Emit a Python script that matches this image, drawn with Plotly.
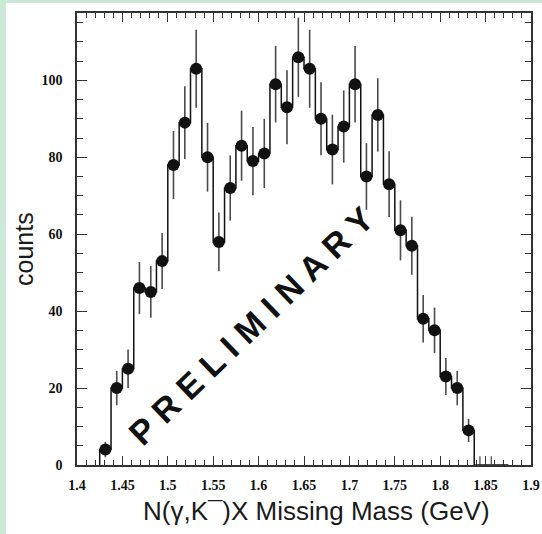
import numpy as np
import plotly.graph_objects as go

# ---- data ----
BIN_START = 1.425          # GeV, lower edge of first bin
BIN_WIDTH = 0.0125         # GeV
counts = [4, 20, 25, 46, 45, 53, 78, 89, 103, 80,
          58, 72, 83, 79, 81, 99, 93, 106, 103, 90,
          82, 88, 99, 75, 91, 73, 61, 57, 38, 35,
          23, 20, 9]
trailing_zero_counts = [0, 0, 0]
zero_bin_upper_err = [2.3, 2.3, 0.0]

x_tick_vals = [1.4, 1.45, 1.5, 1.55, 1.6, 1.65, 1.7, 1.75, 1.8, 1.85, 1.9]
x_tick_text = ["1.4", "1.45", "1.5", "1.55", "1.6", "1.65", "1.7", "1.75", "1.8", "1.85", "1.9"]
y_tick_vals = [0, 20, 40, 60, 80, 100]
y_tick_text = ["0", "20", "40", "60", "80", "100"]

# ---- derived ----
all_counts = counts + trailing_zero_counts
n = len(all_counts)
edges = BIN_START + BIN_WIDTH * np.arange(n + 1)
centers = edges[:-1] + BIN_WIDTH / 2
n_data = len(counts)
errors = np.sqrt(np.array(counts, dtype=float))

hist_x = [edges[0]] + list(edges)
hist_y = [0] + all_counts + [all_counts[-1]]

fig = go.Figure()
fig.add_trace(go.Scatter(x=hist_x, y=hist_y, mode="lines",
                         line=dict(shape="hv", color="#111111", width=1.5),
                         hoverinfo="skip", showlegend=False))
fig.add_trace(go.Scatter(x=centers[n_data:], y=trailing_zero_counts, mode="markers",
                         marker=dict(size=1, color="rgba(0,0,0,0)"),
                         error_y=dict(type="data", array=zero_bin_upper_err,
                                      arrayminus=[0] * len(trailing_zero_counts),
                                      thickness=1.2, width=0, color="#444444"),
                         showlegend=False))
fig.add_trace(go.Scatter(x=centers[:n_data], y=counts, mode="markers",
                         marker=dict(size=12, color="#111111"),
                         error_y=dict(type="data", array=errors, thickness=1.6,
                                      width=0, color="#4a4a4a"),
                         showlegend=False))

W, H = 542, 534
L, R, T, B = 77, 11, 13, 69
PW, PH = W - L - R, H - T - B


def px(xp):
    return (xp - L) / PW


def py(yp):
    return (H - B - yp) / PH


tickfont = dict(family="Liberation Serif", size=14, color="#111111", weight="bold")
axis_common = dict(showline=True, linecolor="#333333", linewidth=1.5, mirror="ticks",
                   ticks="inside", tickcolor="#333333", tickwidth=1.3, automargin=False,
                   showgrid=False, zeroline=False, tickfont=tickfont, tickmode="array")

fig.update_xaxes(range=[1.4, 1.9], tickvals=x_tick_vals, ticktext=x_tick_text,
                 ticklen=9, ticklabelstandoff=6,
                 minor=dict(dtick=0.01, tick0=1.4, ticks="inside", ticklen=5,
                            tickcolor="#333333", tickwidth=1.1, showgrid=False),
                 **axis_common)
fig.update_yaxes(range=[0, 117.5], tickvals=y_tick_vals, ticktext=y_tick_text,
                 ticklen=10, ticklabelstandoff=10,
                 minor=dict(dtick=5, tick0=0, ticks="inside", ticklen=6,
                            tickcolor="#333333", tickwidth=1.1, showgrid=False),
                 **axis_common)

green = "#cbe9d6"
shapes = [
    dict(type="rect", xref="paper", yref="paper", x0=px(0), x1=px(W), y0=py(3), y1=py(0),
         fillcolor=green, line=dict(width=0), layer="below"),
    dict(type="rect", xref="paper", yref="paper", x0=px(0), x1=px(6), y0=py(H), y1=py(0),
         fillcolor=green, line=dict(width=0), layer="below"),
]

annotations = [
    dict(text="counts", x=px(24), y=py(249), xref="paper", yref="paper",
         showarrow=False, textangle=-90, xanchor="center", yanchor="middle",
         font=dict(family="Liberation Sans", size=25, color="#1a1a1a")),
    dict(text="N(γ,K¯)X Missing Mass (GeV)", x=px(316), y=py(511), xref="paper", yref="paper",
         showarrow=False, xanchor="center", yanchor="middle",
         font=dict(family="Liberation Sans", size=26, color="#1a1a1a")),
    dict(text="P R E L I M I N A R Y", x=px(251), y=py(326), xref="paper", yref="paper",
         showarrow=False, textangle=-44, xanchor="center", yanchor="middle",
         font=dict(family="Liberation Sans", size=34, color="#111111", weight="bold")),
]

fig.update_layout(width=W, height=H, margin=dict(l=L, r=R, t=T, b=B),
                  paper_bgcolor="white", plot_bgcolor="white",
                  shapes=shapes, annotations=annotations, showlegend=False)

fig.write_html("out.html")
